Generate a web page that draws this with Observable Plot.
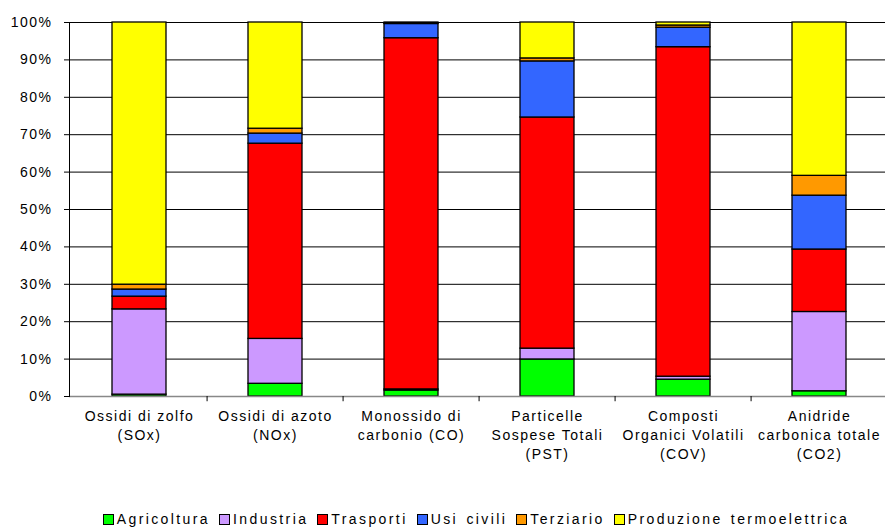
<!DOCTYPE html>
<html>
<head>
<meta charset="utf-8">
<script src="https://cdn.jsdelivr.net/npm/d3@7"></script>
<script src="https://cdn.jsdelivr.net/npm/@observablehq/plot@0.6"></script>
<style>
  html, body { margin: 0; padding: 0; background: #fff; }
  body { width: 885px; height: 529px; overflow: hidden; font-family: "Liberation Sans", Arial, sans-serif; }
  #chart svg text { letter-spacing: 1.5px; }
  #legend { display: flex; justify-content: center; align-items: center; font-size: 14px; letter-spacing: 2.4px; word-spacing: 2px; color: #000; margin-top: 41px; margin-left: 76px; }
  .item { display: flex; align-items: center; margin: 0 9px 0 0; }
  .sw { width: 9px; height: 9px; border: 1.3px solid #000; margin-right: 3px; box-sizing: content-box; }
</style>
</head>
<body>
<div id="chart"></div>
<div id="legend"></div>
<script>
const categories = ["SOx", "NOx", "CO", "PST", "COV", "CO2"];
const categoryLabels = [
  "Ossidi di zolfo\n(SOx)",
  "Ossidi di azoto\n(NOx)",
  "Monossido di\ncarbonio (CO)",
  "Particelle\nSospese Totali\n(PST)",
  "Composti\nOrganici Volatili\n(COV)",
  "Anidride\ncarbonica totale\n(CO2)"
];
const series = ["Agricoltura", "Industria", "Trasporti", "Usi civili", "Terziario", "Produzione termoelettrica"];
const seriesColors = ["#00FF00", "#CC99FF", "#FF0000", "#3366FF", "#FF9900", "#FFFF00"];

const agricoltura = [0.5, 3.4, 1.6, 9.9, 4.5, 1.4];
const industria   = [22.8, 12.0, 0.3, 2.9, 0.8, 21.2];
const trasporti   = [3.4, 52.2, 93.9, 61.8, 88.1, 16.7];
const usiCivili   = [1.9, 2.7, 3.8, 15.0, 5.2, 14.4];
const terziario   = [1.3, 1.3, 0.2, 0.8, 0.6, 5.3];
const produzione  = [70.1, 28.4, 0.2, 9.6, 0.8, 41.0];

const yTicks = [0, 10, 20, 30, 40, 50, 60, 70, 80, 90, 100];

const seriesValues = [agricoltura, industria, trasporti, usiCivili, terziario, produzione];
const data = [];
series.forEach((s, i) => {
  categories.forEach((c, j) => {
    data.push({ series: s, cat: c, value: seriesValues[i][j] });
  });
});

const W = 885, H = 470, ML = 69, MR = -5;
const step = (W - ML - MR) / categories.length;
const labelOf = new Map(categories.map((c, i) => [c, categoryLabels[i]]));

const chart = Plot.plot({
  width: W,
  height: H,
  marginLeft: ML,
  marginRight: MR,
  marginTop: 22,
  marginBottom: 74,
  style: { fontFamily: "'Liberation Sans', Arial, sans-serif", fontSize: "14px", color: "#000", background: "#fff", overflow: "visible" },
  x: { domain: categories, paddingInner: 0.6, paddingOuter: 0.3, align: 0.5 },
  y: { domain: [0, 100] },
  color: { domain: series, range: seriesColors },
  marks: [
    Plot.gridY(yTicks, { stroke: "#000", strokeOpacity: 1, strokeWidth: 1 }),
    Plot.barY(data, { x: "cat", y: "value", fill: "series", stroke: "#000", strokeWidth: 1.3 }),
    Plot.ruleY([0], { stroke: "#888", strokeWidth: 1.5 }),
    Plot.frame({ anchor: "left", stroke: "#000", strokeWidth: 1 }),
    Plot.ruleX(categories.slice(1), { x: d => d, dx: -step / 2, y1: 0, y2: -1.4, stroke: "#000" }),
    Plot.axisY(yTicks, { tickSize: 5, tickPadding: 12, tickFormat: d => d + "%", fontSize: 14, label: null }),
    Plot.axisX({ tickSize: 0, tickPadding: 11, tickFormat: d => labelOf.get(d), fontSize: 14, lineHeight: 1.36, label: null })
  ]
});
document.getElementById("chart").appendChild(chart);

const legend = document.getElementById("legend");
series.forEach((s, i) => {
  const it = document.createElement("div");
  it.className = "item";
  const sw = document.createElement("div");
  sw.className = "sw";
  sw.style.background = seriesColors[i];
  const t = document.createElement("span");
  t.textContent = s;
  it.appendChild(sw);
  it.appendChild(t);
  legend.appendChild(it);
});
</script>
</body>
</html>
